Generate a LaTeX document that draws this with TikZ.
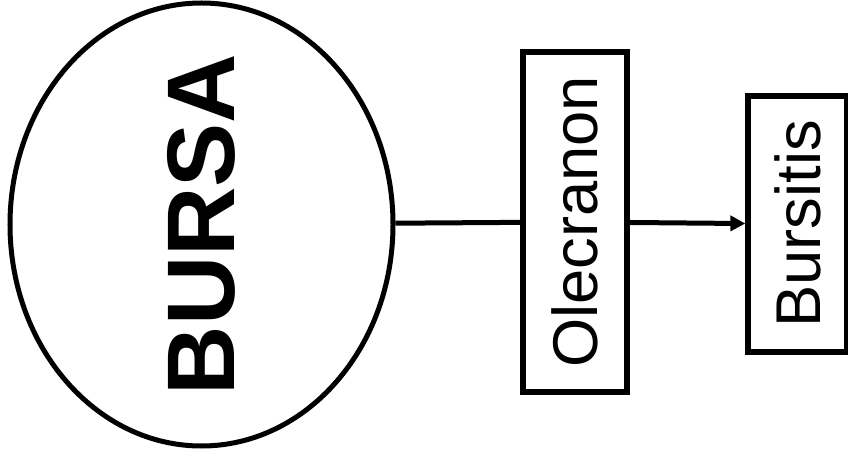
\documentclass[tikz,border=0pt]{standalone}
\usepackage{fontspec}
\setmainfont{Liberation Sans}
\usetikzlibrary{arrows.meta,positioning,shapes.geometric}

\begin{document}
\begin{tikzpicture}[
    labelbox/.style={rectangle, draw, line width=0.16cm, rotate=90, inner sep=0pt,
                     font=\fontsize{54}{60}\selectfont},
    link/.style={line width=0.15cm}
  ]
    \useasboundingbox (0,0) rectangle (25.44,13.77);

    % Bursa ellipse
    \node[ellipse, draw, line width=0.15cm, inner sep=0pt,
          minimum width=11.49cm, minimum height=13.29cm] (bursa) at (6.045,7.035) {};
    \node[rotate=90, inner sep=0pt, font=\fontsize{82}{90}\selectfont\bfseries]
      (bursatext) at (bursa.center) {BURSA};

    % Boxes
    \node[labelbox, minimum width=10.2cm, minimum height=3.12cm] (olec) at (17.25,7.11) {Olecranon};
    \node[labelbox, minimum width=7.68cm, minimum height=2.97cm] (burs) at (23.925,7.05) {Bursitis};

    % Connectors
    \draw[link] (bursa) -- (olec);
    \draw[link, -{Triangle[length=0.45cm,width=0.45cm]}] (olec) -- (burs);
\end{tikzpicture}
\end{document}
